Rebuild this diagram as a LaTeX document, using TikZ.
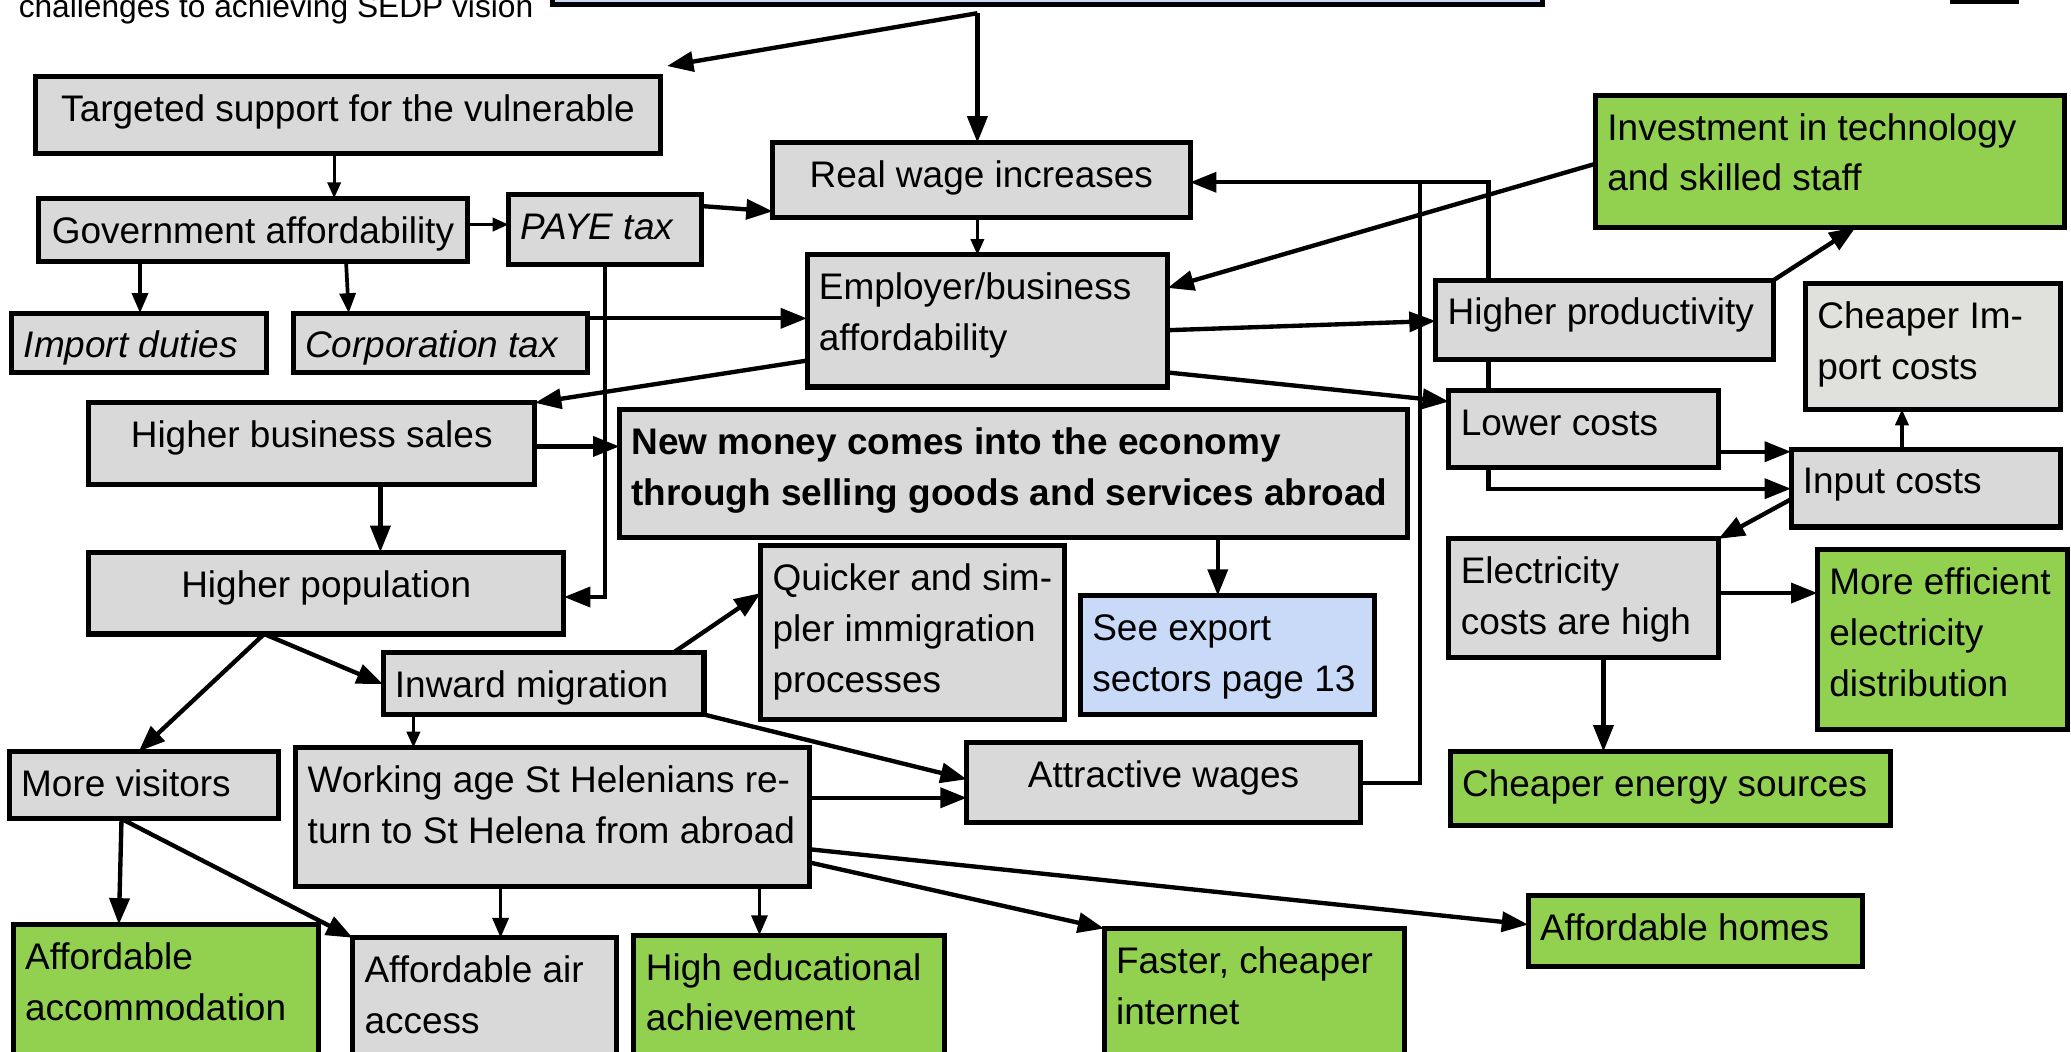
\documentclass[tikz,border=0pt]{standalone}
\usepackage{fontspec}
\setmainfont{Liberation Sans}
\usetikzlibrary{arrows.meta}
\definecolor{gy}{HTML}{D9D9D9}
\definecolor{gn}{HTML}{92D050}
\definecolor{bl}{HTML}{C9DAF8}
\definecolor{ci}{HTML}{E0E1DC}
\pgfdeclarelayer{bg}\pgfsetlayers{bg,main}
\newcommand\alL[1]{\begin{tabular}[t]{@{\hspace{9pt}}l@{}}#1\end{tabular}}
\newcommand\alC[1]{\centering\begin{tabular}[t]{@{}c@{}}#1\end{tabular}}
\newcommand\BX[8]{%
  \pgfmathsetmacro\bw{#5-#3}%
  \pgfmathsetmacro\bh{#6-#4}%
  \node[bx,#2,minimum width=\bw pt,minimum height=\bh pt] (#1) at (#3,#4)
    {\parbox[c][\bh pt][t]{\bw pt}{\rule{0pt}{34pt}\csname al#7\endcsname{#8}}};%
}
\tikzset{
  bx/.style={draw, line width=3.8pt, fill=gy, rectangle, inner sep=0pt, outer sep=0pt,
    anchor=north west, font=\fontsize{28}{38.5}\selectfont},
  arr/.style={line width=3.3pt, -{Triangle[length=20pt,width=15pt]}},
  marr/.style={line width=2.8pt, -{Triangle[length=15pt,width=12pt]}},
  sarr/.style={line width=2.4pt, -{Triangle[length=12pt,width=10pt]}},
  plainline/.style={line width=3.3pt},
}
\begin{document}
\begin{tikzpicture}[x=1pt,y=-1pt]
\useasboundingbox (0,0) rectangle (1568,796);
\fill[white] (0,0) rectangle (1568,796);
\clip (0,0) rectangle (1568,796);

% cut-off top elements
\node[bx, fill=bl, minimum width=750pt, minimum height=63.5pt] (vision) at (418,-60) {};
\node[bx, fill=white, minimum width=49pt, minimum height=40pt] (topr) at (1478,-38.5) {};
\node[anchor=base west, inner sep=0pt, font=\fontsize{24}{28}\selectfont] (chal) at (14,13) {challenges to achieving SEDP vision};

\BX{targ}{}{27}{58}{500}{116}{C}{Targeted support for the vulnerable}
\BX{gov}{}{29}{150}{354}{198}{C}{Government affordability}
\BX{paye}{}{385}{147}{531}{200}{L}{\itshape PAYE tax}
\BX{imp}{}{9}{237}{202}{282}{L}{\itshape Import duties}
\BX{corp}{}{222}{237}{445}{282}{L}{\itshape Corporation tax}
\BX{real}{}{585}{108}{901}{165}{C}{Real wage increases}
\BX{emp}{}{611}{193}{884}{293}{L}{Employer/business\\affordability}
\BX{inv}{fill=gn}{1208}{72}{1563}{172}{L}{Investment in technology\\and skilled staff}
\BX{hprod}{}{1087}{212}{1343}{272}{L}{Higher productivity}
\BX{cimp}{fill=ci}{1367}{215}{1560}{310}{L}{Cheaper Im-\\port costs}
\BX{lcost}{}{1097}{296}{1301}{354}{L}{Lower costs}
\BX{input}{}{1356}{340}{1560}{399}{L}{Input costs}
\BX{hbs}{}{67}{305}{405}{367}{C}{Higher business sales}
\BX{newm}{}{469}{310}{1066}{407}{L}{\bfseries New money comes into the economy\\\bfseries through selling goods and services abroad}
\BX{hpop}{}{67}{418}{427}{480}{C}{Higher population}
\BX{quick}{}{576}{413}{806}{545}{L}{Quicker and sim-\\pler immigration\\processes}
\BX{exp}{fill=bl}{818}{451}{1041}{541}{L}{See export\\sectors page 13}
\BX{elec}{}{1097}{408}{1301}{498}{L}{Electricity\\costs are high}
\BX{meff}{fill=gn}{1376}{416}{1565}{552}{L}{More efficient\\electricity\\distribution}
\BX{inw}{}{290}{494}{533}{541}{L}{Inward migration}
\BX{vis}{}{7}{569}{211}{620}{L}{More visitors}
\BX{work}{}{224}{566}{613}{671}{L}{Working age St Helenians re-\\turn to St Helena from abroad}
\BX{attr}{}{732}{562}{1030}{623}{C}{Attractive wages}
\BX{cen}{fill=gn}{1098}{569}{1431}{625}{L}{Cheaper energy sources}
\BX{acc}{fill=gn}{10}{700}{241}{830}{L}{Affordable\\accommodation}
\BX{air}{}{267}{710}{467}{830}{L}{Affordable air\\access}
\BX{edu}{fill=gn}{480}{708}{715}{830}{L}{High educational\\achievement}
\BX{fast}{fill=gn}{836}{703}{1063}{830}{L}{Faster, cheaper\\internet}
\BX{homes}{fill=gn}{1157}{678}{1410}{732}{L}{Affordable homes}

\coordinate (sp) at (740,10);
\draw[arr] (sp) -- (sp |- real.north);
\draw[arr] (sp) -- ([xshift=5pt,yshift=8pt]targ.north east);
\draw[sarr] (targ.south -| 253,0) -- (gov.north -| 253,0);
\draw[sarr] (gov.east |- 0,170) -- (paye.west |- 0,170);
\draw[marr] (gov.south -| 106,0) -- (imp.north -| 106,0);
\draw[marr] (gov.south -| 262,0) -- (corp.north -| 264,0);
\draw[arr] (paye.east |- 0,156) -- (real.west |- 0,160);
\draw[arr] (paye.south -| 458,0) -- (458,452) -- (hpop.east |- 0,452);
\draw[arr] (corp.east |- 0,241) -- (emp.west |- 0,241);
\draw[sarr] (real.south -| 740,0) -- (emp.north -| 740,0);
\draw[arr] (inv.west |- 0,124) -- (emp.east |- 0,218);
\draw[arr] (emp.east |- 0,250) -- (hprod.west |- 0,243);
\draw[arr] (emp.east |- 0,282) -- (lcost.west |- 0,304);
\draw[arr] (emp.west |- 0,273) -- (hbs.north east);
\draw[arr] (hprod.north east) -- (inv.south -| 1405,0);
\draw[arr] (hbs.east |- 0,338) -- (newm.west |- 0,338);
\draw[arr] (hbs.south -| 288,0) -- (hpop.north -| 288,0);
\draw[arr] (newm.south -| 922,0) -- (exp.north -| 922,0);
\draw[arr] (lcost.east |- 0,342) -- (input.west |- 0,342);
\draw[arr] (lcost.south -| 1127,0) -- (1127,370) -- (input.west |- 0,370);
\draw[arr] (input.west |- 0,378) -- (elec.north east);
\draw[sarr] (input.north -| 1440,0) -- (cimp.south -| 1440,0);
\draw[arr] (elec.east |- 0,449) -- (meff.west |- 0,449);
\draw[arr] (elec.south -| 1214,0) -- (cen.north -| 1214,0);
\draw[arr] (hpop.south -| 200,0) -- (vis.north -| 105,0);
\draw[arr] (hpop.south -| 200,0) -- (inw.west |- 0,518);
\draw[arr] (inw.north -| 510,0) -- (quick.west |- 0,449);
\draw[sarr] (inw.south -| 313,0) -- (work.north -| 313,0);
\draw[arr] (inw.south east) -- (attr.west |- 0,590);
\draw[arr] (work.east |- 0,604) -- (attr.west |- 0,604);
\draw[plainline] (attr.east |- 0,593) -| (1075,138);
\draw[arr] (hprod.north -| 1127,0) |- (real.east |- 0,138);
\draw[plainline] (hprod.south -| 1127,0) -- (lcost.north -| 1127,0);
\begin{pgfonlayer}{bg}
\draw[arr] (input.south west) -- (input.south west |- 0,745) -- (fast.east |- 0,745);
\end{pgfonlayer}
\draw[arr] (vis.south -| 92,0) -- (acc.north -| 90,0);
\draw[arr] (vis.south -| 92,0) -- (air.north west);
\draw[marr] (work.south -| 379,0) -- (air.north -| 379,0);
\draw[marr] (work.south -| 575,0) -- (edu.north -| 575,0);
\draw[arr] (work.east |- 0,643) -- (homes.west |- 0,700);
\draw[arr] (work.east |- 0,653) -- (fast.north west);
\end{tikzpicture}
\end{document}
